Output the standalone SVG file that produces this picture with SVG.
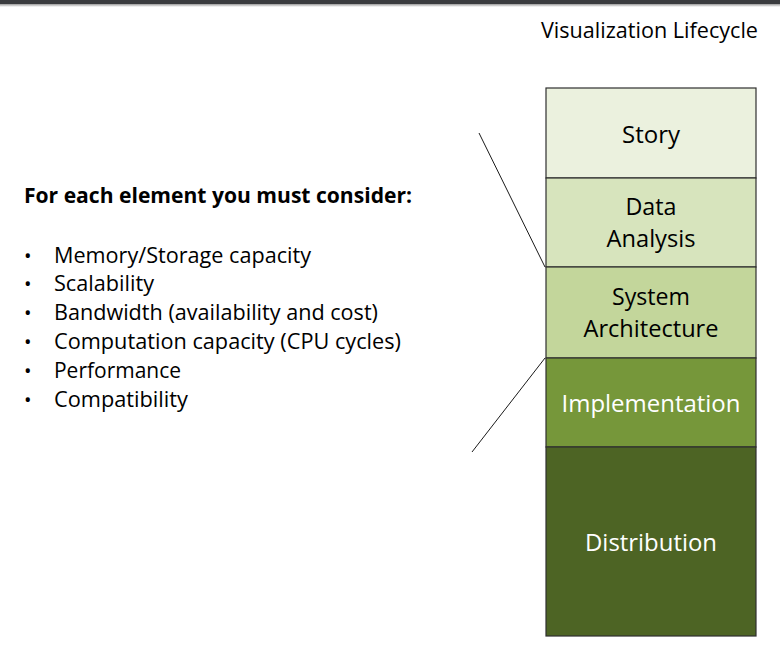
<svg xmlns="http://www.w3.org/2000/svg" width="780" height="660" viewBox="0 0 780 660">
  <defs>
    <linearGradient id="barShade" x1="0" y1="0" x2="0" y2="1">
      <stop offset="0" stop-color="#9a9a9a"/>
      <stop offset="1" stop-color="#ffffff"/>
    </linearGradient>
    <style>
      .t { font-family: "Open Sans", "Noto Sans", "DejaVu Sans", sans-serif; fill: #000; }
      .head { font-size: 21px; }
      .bold { font-size: 21px; font-weight: bold; }
      .item { font-size: 21px; }
      .dot { font-size: 20px; }
      .lbl { font-size: 24.5px; text-anchor: middle; }
      .lbl.light { fill: #ffffff; }
      .layer { stroke: #2f2f2f; stroke-width: 1.2; }
      .conn { stroke: #1a1a1a; stroke-width: 1; fill: none; }
    </style>
  </defs>

  <rect width="780" height="660" fill="#ffffff"/>
  <!-- top bar -->
  <rect x="0" y="0" width="780" height="4" fill="#3a3c3f"/>
  <rect x="0" y="4" width="780" height="3" fill="url(#barShade)"/>

  <text class="t head" x="541" y="38" textLength="217" lengthAdjust="spacingAndGlyphs">Visualization Lifecycle</text>

  <!-- considerations list -->
  <g id="considerations">
    <text class="t bold" x="24" y="203" textLength="388" lengthAdjust="spacingAndGlyphs">For each element you must consider:</text>
    <g class="t dot">
      <text x="24" y="263">•</text>
      <text x="24" y="291">•</text>
      <text x="24" y="320">•</text>
      <text x="24" y="349">•</text>
      <text x="24" y="378">•</text>
      <text x="24" y="407">•</text>
    </g>
    <g class="t item">
      <text x="54" y="263" textLength="257" lengthAdjust="spacingAndGlyphs">Memory/Storage capacity</text>
      <text x="54" y="291" textLength="100" lengthAdjust="spacingAndGlyphs">Scalability</text>
      <text x="54" y="320" textLength="324" lengthAdjust="spacingAndGlyphs">Bandwidth (availability and cost)</text>
      <text x="54" y="349" textLength="347" lengthAdjust="spacingAndGlyphs">Computation capacity (CPU cycles)</text>
      <text x="54" y="378" textLength="127" lengthAdjust="spacingAndGlyphs">Performance</text>
      <text x="54" y="407" textLength="134" lengthAdjust="spacingAndGlyphs">Compatibility</text>
    </g>
  </g>

  <!-- lifecycle stack -->
  <g id="story">
    <rect class="layer" x="546" y="88" width="210" height="90" fill="#ebf1de"/>
    <text class="t lbl" x="651" y="143" textLength="58" lengthAdjust="spacingAndGlyphs">Story</text>
  </g>
  <g id="data-analysis">
    <rect class="layer" x="546" y="178" width="210" height="89" fill="#d7e4bd"/>
    <text class="t lbl" x="651" y="215" textLength="51" lengthAdjust="spacingAndGlyphs">Data</text>
    <text class="t lbl" x="651" y="247" textLength="89" lengthAdjust="spacingAndGlyphs">Analysis</text>
  </g>
  <g id="system-architecture">
    <rect class="layer" x="546" y="267" width="210" height="91" fill="#c3d69b"/>
    <text class="t lbl" x="651" y="305" textLength="78" lengthAdjust="spacingAndGlyphs">System</text>
    <text class="t lbl" x="651" y="337" textLength="135" lengthAdjust="spacingAndGlyphs">Architecture</text>
  </g>
  <g id="implementation">
    <rect class="layer" x="546" y="358" width="210" height="89" fill="#76973a"/>
    <text class="t lbl light" x="651" y="412" textLength="179" lengthAdjust="spacingAndGlyphs">Implementation</text>
  </g>
  <g id="distribution">
    <rect class="layer" x="546" y="447" width="210" height="189" fill="#4d6424"/>
    <text class="t lbl light" x="651" y="551" textLength="132" lengthAdjust="spacingAndGlyphs">Distribution</text>
  </g>

  <!-- callout lines -->
  <g id="connectors">
    <line class="conn" x1="479" y1="133" x2="545" y2="267"/>
    <line class="conn" x1="545" y1="358" x2="472" y2="452"/>
  </g>
</svg>
